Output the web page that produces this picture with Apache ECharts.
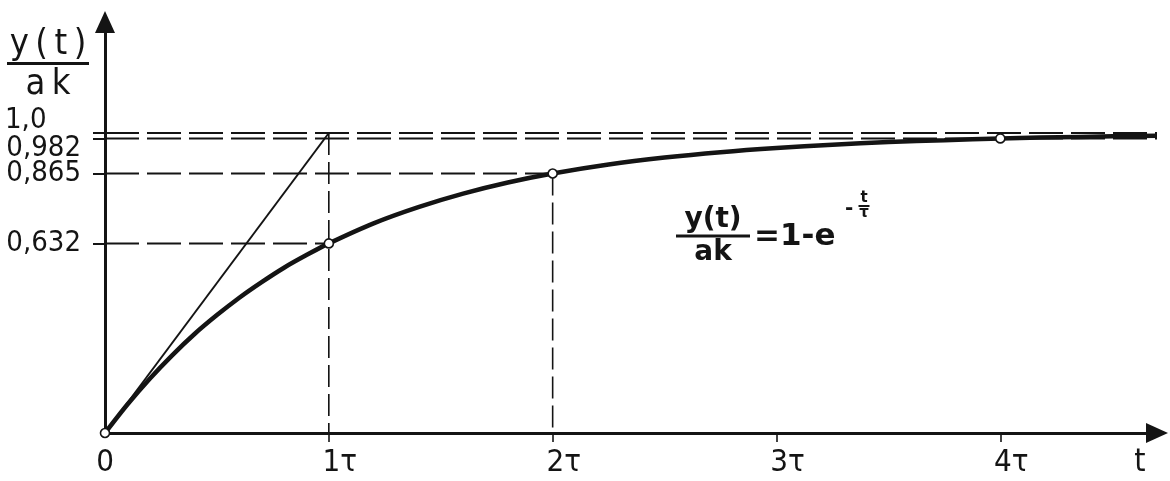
<!DOCTYPE html>
<html><head><meta charset="utf-8">
<script src="https://cdn.jsdelivr.net/npm/echarts@6/dist/echarts.min.js"></script>
<style>html,body{margin:0;padding:0;background:#fff}#c{width:1170px;height:481px}</style>
</head><body><div id="c"></div>
<script>
// ---- data ----
const tickValuesY = [0.632, 0.865, 0.982, 1.0];
const tickLabelsY = ['0,632', '0,865', '0,982', '1,0'];
const tickValuesX = [0, 1, 2, 3, 4];
const tickLabelsX = ['0', '1τ', '2τ', '3τ', '4τ'];
const curveT = [0, 0.1, 0.2, 0.3, 0.4, 0.5, 0.6, 0.7, 0.8, 0.9, 1.0, 1.2, 1.4, 1.6, 1.8, 2.0, 2.25, 2.5, 2.75, 3.0, 3.25, 3.5, 3.75, 4.0, 4.35, 4.7];
const curveY = [0, 0.095, 0.181, 0.259, 0.33, 0.393, 0.451, 0.503, 0.551, 0.593, 0.632, 0.699, 0.753, 0.798, 0.835, 0.865, 0.895, 0.918, 0.936, 0.95, 0.961, 0.970, 0.976, 0.982, 0.987, 0.991];
const tangentT = [0, 1];
const tangentY = [0, 1.0];
const markedT = [0, 1, 2, 4];
const markedY = [0, 0.632, 0.865, 0.982];
const levelY = [1.0, 0.982, 0.865, 0.632];
const levelEndT = [4.7, 4.7, 2, 1];
const dropT = [1, 2];
const dropTopY = [1.0, 0.865];

const INK = '#141414';
const FONT = '"Liberation Sans Narrow", "DejaVu Sans Condensed", "Liberation Sans", sans-serif';
const FFONT = '"DejaVu Sans", sans-serif';
const THIN = '\u2009';

const series = [];
levelY.forEach((y, i) => {
  series.push({
    type: 'line', data: [[0, y], [levelEndT[i], y]], showSymbol: false, silent: true,
    lineStyle: { color: INK, width: 2, type: [34, 8] }, z: 2
  });
});
dropT.forEach((t, i) => {
  series.push({
    type: 'line', data: [[t, dropTopY[i]], [t, 0]], showSymbol: false, silent: true,
    lineStyle: { color: INK, width: 1.6, type: [22, 7] }, z: 2
  });
});
series.push({
  type: 'line', data: tangentT.map((t, i) => [t, tangentY[i]]), showSymbol: false,
  lineStyle: { color: INK, width: 2 }, z: 3
});
series.push({
  type: 'line', data: curveT.map((t, i) => [t, curveY[i]]), showSymbol: false, smooth: 0.3,
  lineStyle: { color: INK, width: 4.5 }, z: 4
});
series.push({
  type: 'scatter', data: markedT.map((t, i) => [t, markedY[i]]), symbol: 'circle', symbolSize: 9,
  itemStyle: { color: '#fff', borderColor: INK, borderWidth: 1.6, opacity: 1 }, z: 6
});

const yLabel = v => tickLabelsY[tickValuesY.indexOf(v)];

const option = {
  animation: false,
  backgroundColor: '#fff',
  grid: { left: 105, right: 13, top: 22, bottom: 48, containLabel: false },
  xAxis: {
    type: 'value', min: 0, max: 4.7, splitLine: { show: false },
    axisLine: { show: true, lineStyle: { color: INK, width: 3 }, symbol: ['none', 'triangle'], symbolSize: [20, 22] },
    axisTick: { show: true, customValues: [1, 2, 3, 4], length: 9, lineStyle: { color: INK, width: 1.6 } },
    axisLabel: {
      customValues: tickValuesX, margin: 14, color: INK, fontFamily: FONT, fontSize: 31, hideOverlap: false,
      formatter: v => { const s = tickLabelsX[tickValuesX.indexOf(v)]; return v === 0 ? s : '{tau|' + s + '}'; },
      rich: { tau: { fontFamily: FONT, fontSize: 31, color: INK, padding: [0, 0, 0, 22] } }
    },
    name: 't', nameLocation: 'end', nameGap: -17,
    nameTextStyle: { color: INK, fontFamily: FONT, fontSize: 32, align: 'center', verticalAlign: 'top', padding: [14, 0, 0, 0] }
  },
  yAxis: [
    {
      type: 'value', position: 'left', min: 0, max: 1.37, splitLine: { show: false },
      axisLine: { show: true, lineStyle: { color: INK, width: 3 }, symbol: ['none', 'triangle'], symbolSize: [20, 22] },
      axisTick: { show: true, customValues: tickValuesY, length: 12, lineStyle: { color: INK, width: 2 } },
      axisLabel: {
        customValues: tickValuesY.slice(0, 2), margin: 24, color: INK, fontFamily: FONT, fontSize: 29, hideOverlap: false,
        formatter: yLabel
      },
      name: '{n|y' + THIN + '(' + THIN + 't' + THIN + ')}\n{b|}\n{d|a' + THIN + 'k}', nameLocation: 'end', nameGap: -6,
      nameTextStyle: {
        align: 'right', verticalAlign: 'top', padding: [0, 16, 0, 0],
        rich: {
          n: { fontFamily: FONT, fontSize: 36, color: INK, align: 'center', lineHeight: 34 },
          b: { width: 82, height: 3, backgroundColor: INK, align: 'center' },
          d: { fontFamily: FONT, fontSize: 36, color: INK, align: 'center', lineHeight: 40 }
        }
      }
    },
    {
      type: 'value', position: 'left', offset: 0, min: 0, max: 1.37, splitLine: { show: false },
      axisLine: { show: false }, axisTick: { show: false },
      axisLabel: {
        customValues: [tickValuesY[2]], margin: 24, color: INK, fontFamily: FONT, fontSize: 29, verticalAlign: 'top',
        lineHeight: 20, formatter: yLabel
      }
    },
    {
      type: 'value', position: 'left', offset: 0, min: 0, max: 1.37, splitLine: { show: false },
      axisLine: { show: false }, axisTick: { show: false },
      axisLabel: {
        customValues: [tickValuesY[3]], margin: 24, color: INK, fontFamily: FONT, fontSize: 29, verticalAlign: 'bottom',
        lineHeight: 26, formatter: v => '{up|' + yLabel(v) + '}',
        rich: { up: { fontFamily: FONT, fontSize: 29, color: INK, width: 76, align: 'left' } }
      }
    }
  ],
  graphic: [
    {
      type: 'text', x: 713, y: 236,
      style: {
        text: '{n|y(t)}\n{b|}\n{d|ak}', align: 'center', verticalAlign: 'middle',
        rich: {
          n: { fontFamily: FFONT, fontSize: 28, fontWeight: 'bold', fill: INK, align: 'center', lineHeight: 30 },
          b: { width: 74, height: 3, backgroundColor: INK, align: 'center' },
          d: { fontFamily: FFONT, fontSize: 28, fontWeight: 'bold', fill: INK, align: 'center', lineHeight: 30 }
        }
      }
    },
    {
      type: 'text', x: 754, y: 237,
      style: { text: '=1-e', fontFamily: FFONT, fontSize: 31, fontWeight: 'bold', fill: INK, align: 'left', verticalAlign: 'middle' }
    },
    {
      type: 'text', x: 845, y: 209,
      style: { text: '-', fontFamily: FFONT, fontSize: 20, fontWeight: 'bold', fill: INK, align: 'left', verticalAlign: 'middle' }
    },
    {
      type: 'text', x: 864, y: 206,
      style: {
        text: '{n|t}\n{b|}\n{d|τ}', align: 'center', verticalAlign: 'middle',
        rich: {
          n: { fontFamily: FFONT, fontSize: 15, fontWeight: 'bold', fill: INK, align: 'center', lineHeight: 13 },
          b: { width: 11, height: 2, backgroundColor: INK, align: 'center' },
          d: { fontFamily: FFONT, fontSize: 15, fontWeight: 'bold', fill: INK, align: 'center', lineHeight: 13 }
        }
      }
    }
  ],
  series: series
};
const chart = echarts.init(document.getElementById('c'), null, { renderer: 'canvas' });
chart.setOption(option);
</script>
</body></html>
